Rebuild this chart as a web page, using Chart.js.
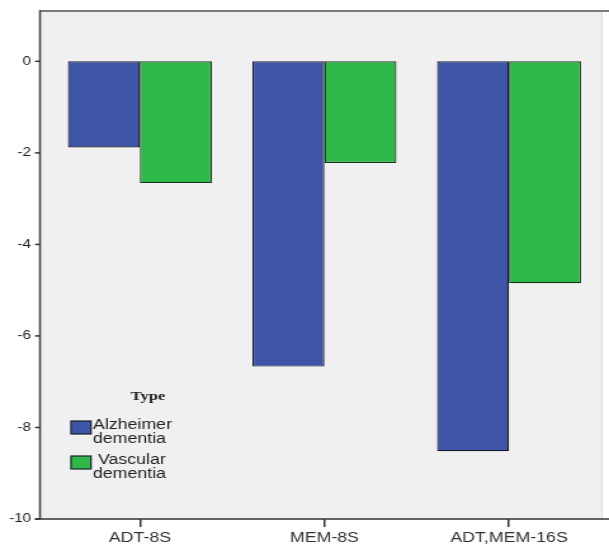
<!DOCTYPE html>
<html><head><meta charset="utf-8">
<script src="https://cdn.jsdelivr.net/npm/chart.js"></script>
<style>
html,body{margin:0;padding:0;background:#fff;overflow:hidden;width:609px;height:547px;}
#c{display:block;transform:scaleX(1.26875);transform-origin:0 0;}
</style></head><body>
<canvas id="c" width="480" height="547"></canvas>
<script>
const categories = ['ADT-8S', 'MEM-8S', 'ADT,MEM-16S'];
const alzheimerValues = [-1.88, -6.67, -8.52];
const vascularValues = [-2.66, -2.22, -4.85];
const seriesLabels = ['Alzheimer\ndementia', ' Vascular\ndementia'];
const seriesColors = ['#3e54a6', '#2eb848'];
const legendTitle = 'Type';
const yTickValues = [-10, -8, -6, -4, -2, 0];

const SX = 609 / 480;
const R = v => v / SX;

const framePlugin = {
  id: 'frame',
  beforeDraw(chart) {
    const ctx = chart.ctx, a = chart.chartArea;
    const axisX = R(40);
    ctx.save();
    ctx.fillStyle = '#ffffff';
    ctx.fillRect(0, 0, chart.width, chart.height);
    ctx.fillStyle = '#f0f0f0';
    ctx.fillRect(axisX, a.top, R(602) - axisX, a.bottom - a.top);
    ctx.strokeStyle = '#dadada';
    ctx.lineWidth = 1;
    ctx.beginPath(); ctx.moveTo(R(602), a.top); ctx.lineTo(R(602), a.bottom); ctx.stroke();
    ctx.strokeStyle = '#7a7a7a';
    ctx.lineWidth = 2;
    ctx.beginPath(); ctx.moveTo(axisX, a.top); ctx.lineTo(chart.width, a.top); ctx.stroke();
    ctx.restore();
  },
  afterDatasetsDraw(chart) {
    const ctx = chart.ctx, a = chart.chartArea, y = chart.scales.y;
    const axisX = R(40);
    ctx.save();
    ctx.strokeStyle = '#4a4a4a';
    ctx.lineWidth = 1.6;
    ctx.beginPath(); ctx.moveTo(axisX, a.top - 1); ctx.lineTo(axisX, a.bottom); ctx.stroke();
    ctx.strokeStyle = '#333333';
    ctx.lineWidth = 1.5;
    ctx.beginPath(); ctx.moveTo(R(35), a.bottom); ctx.lineTo(chart.width, a.bottom); ctx.stroke();
    yTickValues.forEach(v => {
      const py = y.getPixelForValue(v);
      ctx.beginPath(); ctx.moveTo(R(35), py); ctx.lineTo(axisX, py); ctx.stroke();
    });
    ctx.restore();
  },
  afterDraw(chart) {
    const ctx = chart.ctx;
    ctx.save();
    ctx.fillStyle = '#222';
    ctx.font = 'bold 13px "Liberation Serif"';
    ctx.textAlign = 'center';
    ctx.textBaseline = 'middle';
    ctx.fillText(legendTitle, R(148), 397);
    const boxTops = [421, 456];
    chart.data.datasets.forEach((ds, i) => {
      const top = boxTops[i];
      ctx.fillStyle = ds.backgroundColor;
      ctx.fillRect(R(71), top, R(91) - R(71), 13);
      ctx.strokeStyle = '#1a1f2a';
      ctx.lineWidth = 1.2;
      ctx.strokeRect(R(71), top, R(91) - R(71), 13);
      ctx.fillStyle = '#222';
      ctx.font = '14px "Liberation Sans"';
      ctx.textAlign = 'left';
      ctx.textBaseline = 'middle';
      ds.label.split('\n').forEach((line, k) => {
        ctx.fillText(line, R(93), top + 4 + k * 14);
      });
    });
    ctx.restore();
  }
};

new Chart(document.getElementById('c'), {
  type: 'bar',
  data: {
    labels: categories,
    datasets: [
      { label: seriesLabels[0], data: alzheimerValues, backgroundColor: seriesColors[0],
        borderColor: '#161c2c', borderWidth: 1.2, borderSkipped: false },
      { label: seriesLabels[1], data: vascularValues, backgroundColor: seriesColors[1],
        borderColor: '#17301e', borderWidth: 1.2, borderSkipped: false }
    ]
  },
  options: {
    responsive: false,
    animation: false,
    devicePixelRatio: 1,
    layout: { padding: { left: 0, right: 480 - R(601.3), top: 11, bottom: 0 } },
    datasets: { bar: { categoryPercentage: 0.78, barPercentage: 1 } },
    plugins: { legend: { display: false }, tooltip: { enabled: false } },
    scales: {
      x: {
        offset: true,
        grid: { display: true, drawOnChartArea: false, drawTicks: true, tickLength: 8, offset: false, color: '#333', lineWidth: 1.5 },
        border: { display: false },
        ticks: { color: '#333', font: { family: 'Liberation Sans', size: 14 }, padding: 3, maxRotation: 0 },
        afterFit(s) { s.height = 28; }
      },
      y: {
        min: -10,
        max: 1.1,
        grid: { display: false, drawTicks: true, tickLength: 13 },
        border: { display: false },
        ticks: { stepSize: 2, includeBounds: false, color: '#222', font: { family: 'Liberation Sans', size: 12 }, padding: 0 },
        afterBuildTicks(s) { s.ticks = yTickValues.map(v => ({ value: v })); },
        afterFit(s) { s.width = R(47.6); }
      }
    }
  },
  plugins: [framePlugin]
});
</script>
</body></html>
